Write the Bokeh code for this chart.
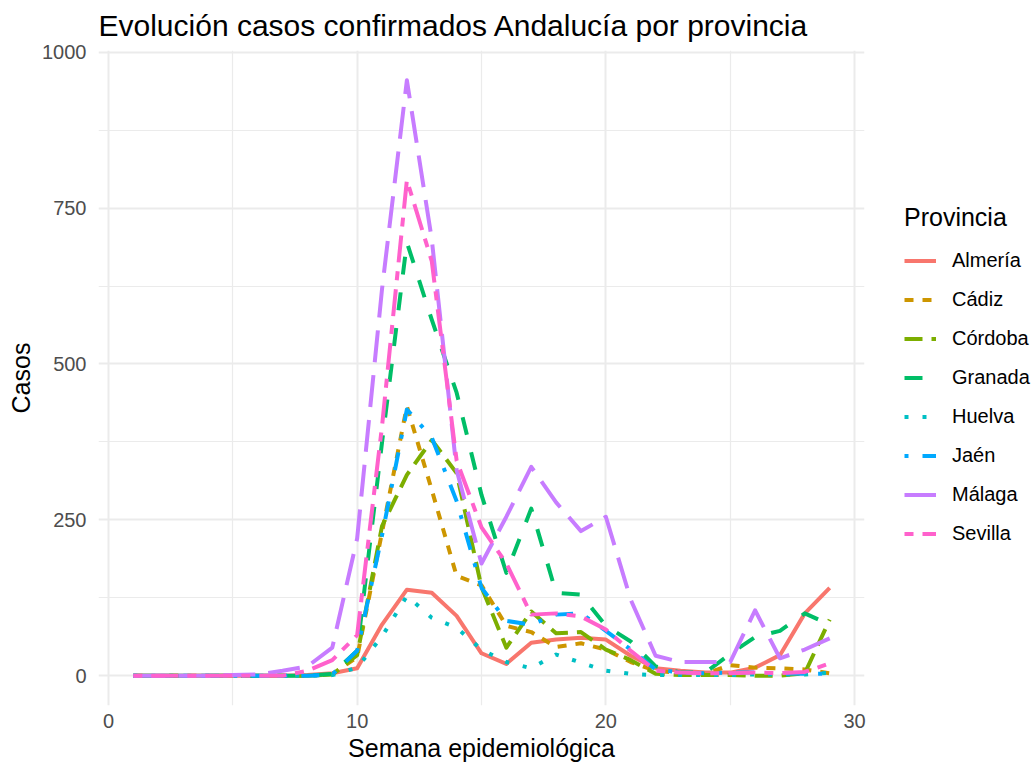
from bokeh.plotting import figure
from bokeh.models import Range1d, FixedTicker, Legend, LegendItem
from bokeh.layouts import row
from bokeh.embed import file_html
from bokeh.resources import INLINE

weeks = list(range(1, 30))

almeria = [0, 0, 0, 0, 0, 0, 0, 1, 4, 12, 82, 138, 133, 96, 36, 19, 53, 58, 61, 58, 32, 12, 8, 5, 5, 13, 33, 100, 141]
cadiz   = [0, 0, 0, 0, 0, 0, 0, 0, 2, 30, 230, 432, 298, 160, 145, 80, 70, 46, 52, 42, 22, 8, 4, 3, 17, 13, 12, 10, 4]
cordoba = [0, 0, 0, 0, 0, 0, 0, 0, 2, 33, 240, 322, 378, 325, 142, 45, 103, 68, 70, 42, 25, 3, 1, 1, 1, 0, 0, 4, 90]
granada = [0, 0, 0, 0, 0, 0, 0, 0, 3, 40, 374, 695, 571, 454, 290, 165, 268, 133, 130, 80, 55, 15, 5, 5, 35, 62, 72, 100, 82]
huelva  = [0, 0, 0, 0, 0, 0, 0, 0, 1, 13, 63, 128, 93, 77, 42, 22, 12, 34, 21, 8, 3, 1, 1, 1, 1, 2, 2, 2, 5]
jaen    = [0, 0, 0, 0, 0, 0, 0, 0, 2, 40, 225, 427, 382, 280, 141, 88, 82, 98, 100, 72, 42, 10, 5, 4, 5, 5, 4, 3, 3]
malaga  = [0, 0, 0, 0, 1, 2, 8, 15, 45, 220, 620, 955, 700, 330, 180, 255, 335, 278, 232, 255, 122, 32, 22, 22, 22, 105, 28, 42, 60]
sevilla = [0, 0, 0, 0, 0, 0, 0, 8, 25, 65, 400, 795, 665, 345, 238, 180, 98, 100, 95, 74, 40, 8, 5, 4, 4, 5, 4, 6, 20]

provincias = ["Almería", "Cádiz", "Córdoba", "Granada", "Huelva", "Jaén", "Málaga", "Sevilla"]
series = [almeria, cadiz, cordoba, granada, huelva, jaen, malaga, sevilla]
colors = ["#F8766D", "#CD9600", "#7CAE00", "#00BE67", "#00BFC4", "#00A9FF", "#C77CFF", "#FF61CC"]
dashes = ["solid", "9 9", "18 9", "18 18", "4 14", "4 14 18 14", "32 13", "9 9 27 9"]

x_ticks = [0, 10, 20, 30]
x_minor = [5, 15, 25]
y_ticks = [0, 250, 500, 750, 1000]
y_minor = [125, 375, 625, 875]

FONT = "Liberation Sans"
H = 766

p = figure(width=866, height=H, output_backend="svg", toolbar_location=None,
           x_range=Range1d(-0.4, 30.4), y_range=Range1d(-47.75, 1002.75),
           title="Evolución casos confirmados Andalucía por provincia",
           min_border_left=98, min_border_right=2, min_border_top=50, min_border_bottom=61)

p.background_fill_color = "white"
p.border_fill_color = "white"
p.outline_line_color = None

p.title.text_font = FONT
p.title.text_font_size = "30px"
p.title.text_font_style = "normal"
p.title.text_color = "black"
p.title.offset = 0
p.title.vertical_align = "top"
p.title.standoff = 14

p.xaxis.ticker = FixedTicker(ticks=x_ticks, minor_ticks=x_minor)
p.yaxis.ticker = FixedTicker(ticks=y_ticks, minor_ticks=y_minor)
p.xaxis.axis_label = "Semana epidemiológica"
p.yaxis.axis_label = "Casos"

for ax in (p.xaxis[0], p.yaxis[0]):
    ax.axis_line_color = None
    ax.major_tick_line_color = None
    ax.minor_tick_line_color = None
    ax.major_tick_out = 0
    ax.major_tick_in = 0
    ax.minor_tick_out = 0
    ax.minor_tick_in = 0
    ax.major_label_text_font = FONT
    ax.major_label_text_font_size = "20px"
    ax.major_label_text_color = "#4D4D4D"
    ax.axis_label_text_font = FONT
    ax.axis_label_text_font_size = "25px"
    ax.axis_label_text_font_style = "normal"
    ax.axis_label_text_color = "black"

p.xaxis.major_label_standoff = 8
p.xaxis.axis_label_standoff = 3
p.yaxis.major_label_standoff = 12
p.yaxis.axis_label_standoff = 4

for g in (p.xgrid[0], p.ygrid[0]):
    g.grid_line_color = "#EBEBEB"
    g.grid_line_width = 2
    g.minor_grid_line_color = "#EBEBEB"
    g.minor_grid_line_width = 1.2

for name, vals, col, dsh in zip(provincias, series, colors, dashes):
    p.line(weeks, vals, line_color=col, line_width=4, line_dash=dsh,
           line_cap="butt", line_join="round")

# Legend panel (separate figure so the legend is not clipped by the plot frame)
lg = figure(width=165, height=H, output_backend="svg", toolbar_location=None,
            x_axis_type=None, y_axis_type=None,
            x_range=Range1d(0, 1), y_range=Range1d(0, 1),
            min_border=0, min_border_left=0, min_border_right=0,
            min_border_top=0, min_border_bottom=0)
lg.outline_line_color = None
lg.background_fill_color = "white"
lg.border_fill_color = "white"

items = []
for name, col, dsh in zip(provincias, colors, dashes):
    r = lg.line(x=[-5, -4], y=[-5, -4], line_color=col, line_width=4, line_dash=dsh, line_cap="butt")
    items.append(LegendItem(label=name, renderers=[r]))

legend = Legend(items=items, location=(38, 152), title="Provincia",
                title_text_font=FONT, title_text_font_size="25px", title_text_font_style="normal",
                title_text_color="black", title_standoff=9,
                label_text_font=FONT, label_text_font_size="20px", label_text_color="black",
                glyph_width=32, glyph_height=39, spacing=0, label_standoff=16,
                padding=0, margin=0, border_line_color=None, background_fill_alpha=0)
lg.add_layout(legend)

layout = row(p, lg, spacing=0)
open("out.html", "w").write(file_html(layout, INLINE))
